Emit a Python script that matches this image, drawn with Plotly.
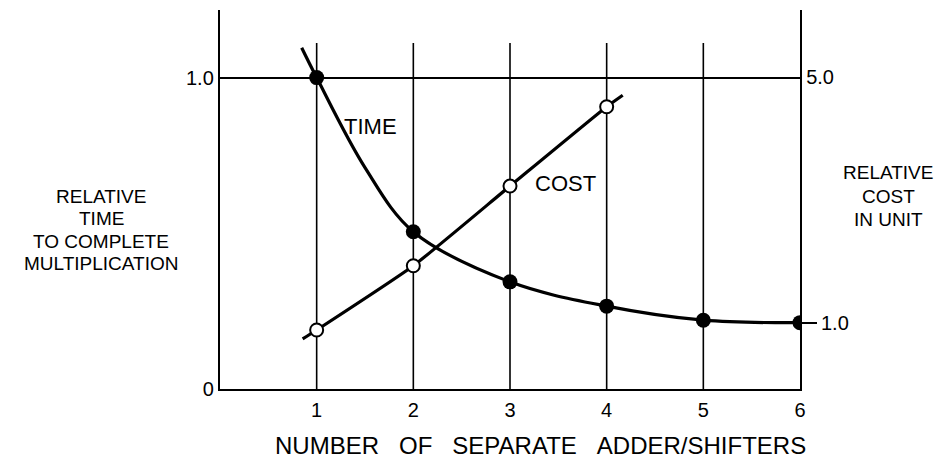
import plotly.graph_objects as go

# Number of separate adder/shifters
units = [1, 2, 3, 4, 5, 6]
# Relative time to complete a multiplication (left axis)
time_rel = [1.0, 0.505, 0.344, 0.266, 0.221, 0.213]
# Hand-drawn time curve through the points, including its lead-in above x=1
time_curve_x = [0.845, 1.0, 1.5, 2.0, 3.0, 4.0, 5.0, 6.0]
time_curve_y = [1.096, 1.0, 0.711, 0.505, 0.344, 0.266, 0.221, 0.213]

# Relative cost in units (right axis)
cost_units = [1, 2, 3, 4]
cost_rel = [0.886, 1.933, 3.231, 4.523]
cost_curve_x = [0.855, 1.0, 2.0, 3.0, 4.0, 4.166]
cost_curve_y = [0.74, 0.886, 1.933, 3.231, 4.523, 4.71]

x_ticks = [1, 2, 3, 4, 5, 6]
left_ticks = [0, 1.0]
left_ticktext = ["0", "1.0"]

FONT = "Liberation Sans"
W, H = 947, 458
L, R, T, B = 220, 147, 10, 69
X_RANGE = [0, 6]
Y_RANGE = [0, 1.217]
Y2_RANGE = [-0.075, 6.099]
GRID_TOP = 1.111


def px(xp, yp):
    """Convert page pixels to paper coordinates of the plot area."""
    return (xp - L) / (W - L - R), (H - B - yp) / (H - B - T)


fig = go.Figure()

fig.add_trace(go.Scatter(x=time_curve_x, y=time_curve_y, mode="lines",
                         line=dict(color="black", width=3.2, shape="spline", smoothing=1.0),
                         hoverinfo="skip", showlegend=False))
fig.add_trace(go.Scatter(x=cost_curve_x, y=cost_curve_y, mode="lines", yaxis="y2",
                         line=dict(color="black", width=3.2, shape="spline", smoothing=0.5),
                         hoverinfo="skip", showlegend=False))
fig.add_trace(go.Scatter(x=units, y=time_rel, mode="markers",
                         marker=dict(size=15, color="black"),
                         name="Time", showlegend=False))
fig.add_trace(go.Scatter(x=cost_units, y=cost_rel, mode="markers", yaxis="y2",
                         marker=dict(size=13, color="white", line=dict(color="black", width=2)),
                         name="Cost", showlegend=False))
# Carrier for the right-hand 1.0 tick
fig.add_trace(go.Scatter(x=[None], y=[None], yaxis="y3", showlegend=False, hoverinfo="skip"))

# Vertical rulings at each unit count
for xv in x_ticks[:-1]:
    fig.add_shape(type="line", x0=xv, x1=xv, y0=0, y1=GRID_TOP, xref="x", yref="y",
                  line=dict(color="black", width=1.6), layer="below")

annotations = []


def label(text, xp, yp, size=22):
    ax, ay = px(xp, yp)
    annotations.append(dict(text=text, x=ax, y=ay, xref="paper", yref="paper",
                            showarrow=False, xanchor="center", yanchor="middle",
                            font=dict(family=FONT, size=size, color="black")))


label("TIME", 370, 126)
label("COST", 565, 183)
for txt, yp in [("RELATIVE", 196), ("TIME", 218.5), ("TO COMPLETE", 241), ("MULTIPLICATION", 263.5)]:
    label(txt, 101, yp, size=19)
for txt, yp in [("RELATIVE", 173), ("COST", 196), ("IN UNIT", 219)]:
    label(txt, 888, yp, size=19)
nb = "\u00a0" * 3
label(f"NUMBER{nb}OF{nb}SEPARATE{nb}ADDER/SHIFTERS", 540, 445, size=24)

fig.update_layout(
    width=W, height=H,
    margin=dict(l=L, r=R, t=T, b=B),
    paper_bgcolor="white", plot_bgcolor="white",
    font=dict(family=FONT, color="black", size=20),
    annotations=annotations,
    xaxis=dict(range=X_RANGE, tickvals=x_ticks, ticktext=[str(v) for v in x_ticks],
               showgrid=False, zeroline=False, showline=True, linecolor="black", linewidth=2.4,
               ticks="", ticklabelstandoff=2, tickfont=dict(size=20)),
    yaxis=dict(range=Y_RANGE, tickvals=left_ticks, ticktext=left_ticktext,
               showgrid=True, gridcolor="black", gridwidth=1.6, zeroline=False,
               showline=True, linecolor="black", linewidth=2.4, ticks="",
               tickfont=dict(size=20)),
    yaxis2=dict(range=Y2_RANGE, overlaying="y", side="right", anchor="x",
                tickvals=[5.0], ticktext=["5.0"], ticks="", showgrid=False, zeroline=False,
                showline=True, linecolor="black", linewidth=2.4, tickfont=dict(size=20)),
    yaxis3=dict(range=Y2_RANGE, overlaying="y", side="right", anchor="x",
                tickvals=[1.0], ticktext=["1.0"], ticks="outside", ticklen=16, tickwidth=2.4,
                tickcolor="black", showgrid=False, zeroline=False, showline=False,
                tickfont=dict(size=20)),
)

fig.write_html("out.html")
